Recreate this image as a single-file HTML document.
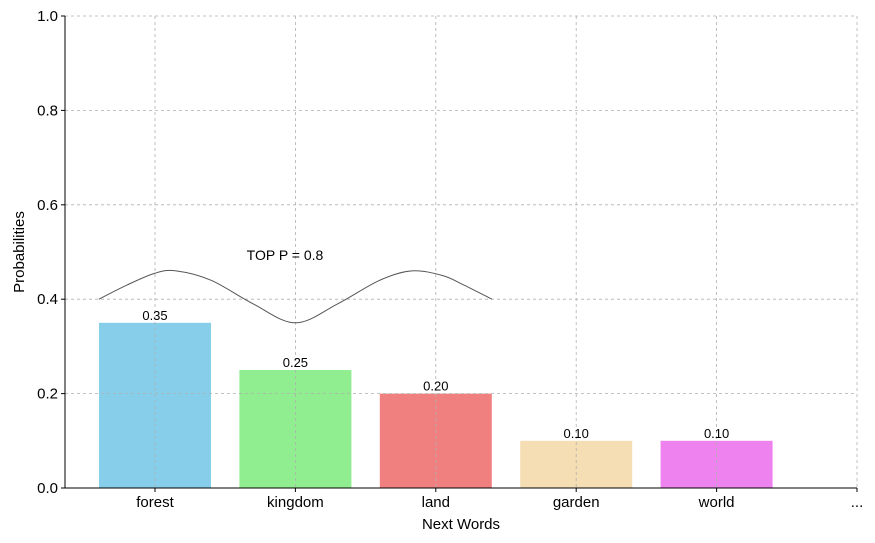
<!DOCTYPE html>
<html><head><meta charset="utf-8"><style>
body{margin:0;background:#fff;}
svg{display:block;font-family:"Liberation Sans","DejaVu Sans",sans-serif;}
</style></head><body>
<svg id="chart" width="875" height="543" viewBox="0 0 875 543">
<g id="bars"></g>
<g id="grid"></g>
<g id="axes"></g>
<g id="labels"></g>
<text x="285" y="260" font-size="14" text-anchor="middle" fill="#000">TOP P = 0.8</text>
<text x="461" y="529" font-size="15" text-anchor="middle" fill="#000">Next Words</text>
<text x="24" y="252" font-size="15" text-anchor="middle" fill="#000" transform="rotate(-90 24 252)">Probabilities</text>
</svg>
<script>
const categories=["forest","kingdom","land","garden","world","..."];
const values=[0.35,0.25,0.20,0.10,0.10];
const valueLabels=["0.35","0.25","0.20","0.10","0.10"];
const colors=["#87CEEB","#90EE90","#F08080","#F5DEB3","#EE82EE"];
const yTicks=[0,0.2,0.4,0.6,0.8,1.0];
const yTickLabels=["0.0","0.2","0.4","0.6","0.8","1.0"];
const curveX=[-0.4,-0.2,0,0.15,0.4,0.7,1,1.3,1.6,1.83,2.05,2.2,2.4];
const curveY=[0.40,0.43,0.455,0.46,0.44,0.39,0.35,0.39,0.44,0.46,0.45,0.43,0.40];

const L=65,R=857,T=16,B=488;
const xs=i=>155+(R-155)/5*i;
const ys=v=>B-(B-T)*v;
const bw=112;
const NS="http://www.w3.org/2000/svg";
function mk(tag,attrs,parent){const e=document.createElementNS(NS,tag);for(const k in attrs)e.setAttribute(k,attrs[k]);parent.appendChild(e);return e;}
const svg=document.getElementById('chart');
const gb=document.getElementById('bars'),gg=document.getElementById('grid'),ga=document.getElementById('axes'),gl=document.getElementById('labels');

values.forEach((v,i)=>{
 const r=mk('rect',{x:xs(i)-bw/2,y:ys(v),width:bw,height:ys(0)-ys(v),fill:colors[i]},gb);
 
 
 const t=mk('text',{x:xs(i),y:ys(v)-3,'font-size':13,'text-anchor':'middle',fill:'#000'},gl);
 t.textContent=valueLabels[i];
 
 
});
yTicks.forEach((v,i)=>{
 const g=mk('line',{x1:L,x2:R,y1:ys(v),y2:ys(v),stroke:'#b0b0b0','stroke-width':0.8,'stroke-dasharray':'3,3'},gg);
 
 
 mk('line',{x1:L-4,x2:L,y1:ys(v),y2:ys(v),stroke:'#000'},ga);
 const t=mk('text',{x:L-7,y:ys(v)+5,'font-size':15,'text-anchor':'end',fill:'#000'},ga);
 t.textContent=yTickLabels[i];
 
 
});
categories.forEach((c,i)=>{
 const g=mk('line',{x1:xs(i),x2:xs(i),y1:T,y2:B,stroke:'#b0b0b0','stroke-width':0.8,'stroke-dasharray':'3,3'},gg);
 
 
 mk('line',{x1:xs(i),x2:xs(i),y1:B,y2:B+4,stroke:'#000'},ga);
 const t=mk('text',{x:xs(i),y:B+19,'font-size':15,'text-anchor':'middle',fill:'#000'},ga);
 t.textContent=c;
 
 
});
const ax1=mk('line',{x1:L,x2:L,y1:T,y2:B,stroke:'#000','stroke-width':1},ga);


const ax2=mk('line',{x1:L,x2:R,y1:B,y2:B,stroke:'#000','stroke-width':1},ga);



// smooth curve (Catmull-Rom)
const P=curveX.map((x,i)=>[xs(x),ys(curveY[i])]);
let d='M'+P[0][0]+','+P[0][1];
for(let i=0;i<P.length-1;i++){
 const p0=P[Math.max(0,i-1)],p1=P[i],p2=P[i+1],p3=P[Math.min(P.length-1,i+2)];
 const c1=[p1[0]+(p2[0]-p0[0])/6,p1[1]+(p2[1]-p0[1])/6];
 const c2=[p2[0]-(p3[0]-p1[0])/6,p2[1]-(p3[1]-p1[1])/6];
 d+=' C'+c1+' '+c2+' '+p2;
}
const cv=mk('path',{d:d,fill:'none',stroke:'#555','stroke-width':1},svg);


</script>
</body></html>
